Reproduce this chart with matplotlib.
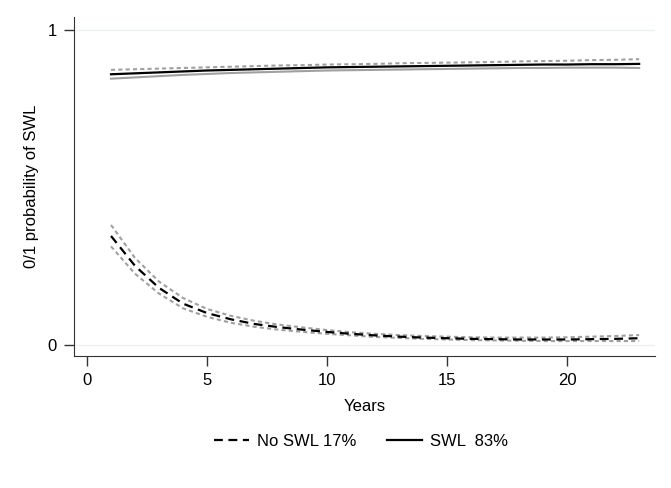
import numpy as np
import matplotlib.pyplot as plt

plt.rcParams['font.family'] = ['Liberation Sans', 'DejaVu Sans']

years = list(range(1, 24))

# SWL (upper group)
swl = [0.859, 0.862, 0.865, 0.868, 0.871, 0.873, 0.875, 0.877, 0.879, 0.881,
       0.882, 0.883, 0.884, 0.885, 0.886, 0.887, 0.888, 0.889, 0.890, 0.890,
       0.891, 0.891, 0.892]
swl_hi = [0.873, 0.875, 0.877, 0.879, 0.881, 0.883, 0.885, 0.887, 0.888, 0.890,
          0.891, 0.892, 0.894, 0.895, 0.896, 0.897, 0.898, 0.900, 0.901, 0.902,
          0.904, 0.905, 0.907]
swl_lo = [0.845, 0.849, 0.853, 0.857, 0.860, 0.863, 0.865, 0.867, 0.869, 0.871,
          0.872, 0.873, 0.874, 0.875, 0.876, 0.877, 0.878, 0.879, 0.879, 0.880,
          0.880, 0.880, 0.879]

# No SWL (lower group)
noswl = [0.345, 0.25, 0.18, 0.13, 0.10, 0.08, 0.065, 0.055, 0.047, 0.040,
         0.034, 0.029, 0.025, 0.022, 0.020, 0.018, 0.017, 0.016, 0.016, 0.016,
         0.017, 0.018, 0.020]
noswl_hi = [0.38, 0.275, 0.20, 0.148, 0.113, 0.091, 0.075, 0.063, 0.054, 0.046,
            0.039, 0.034, 0.030, 0.027, 0.025, 0.023, 0.022, 0.022, 0.022, 0.023,
            0.025, 0.027, 0.030]
noswl_lo = [0.312, 0.225, 0.162, 0.115, 0.088, 0.069, 0.056, 0.047, 0.040, 0.034,
            0.029, 0.024, 0.021, 0.018, 0.016, 0.014, 0.013, 0.012, 0.011, 0.011,
            0.011, 0.011, 0.011]

fig = plt.figure(figsize=(6.71, 4.88), dpi=100)
ax = fig.add_axes([73.5 / 671, 1 - 356 / 488, (655 - 73.5) / 671, (356 - 16.7) / 488])

for yv in (0, 1):
    ax.axhline(yv, color='#eaf2f3', lw=1, zorder=0)

gray = '#a0a0a0'
ax.plot(years, noswl_hi, color=gray, lw=1.5, ls=(0, (2, 1.5)))
ax.plot(years, noswl_lo, color=gray, lw=1.5, ls=(0, (2, 1.5)))
ax.plot(years, swl_hi, color=gray, lw=1.5, ls=(0, (2, 1.5)))
ax.plot(years, swl_lo, color=gray, lw=1.5)
ax.plot(years, noswl, color='black', lw=1.6, ls=(0, (4, 2.5)), label='No SWL 17%')
ax.plot(years, swl, color='black', lw=1.6, label='SWL  83%')

ax.set_xlim(-0.5625, 23.66)
ax.set_ylim(-0.0365, 1.042)
ax.set_xticks([0, 5, 10, 15, 20])
ax.set_yticks([0, 1])
ax.tick_params(labelsize=12, length=7, width=1, color='#333333', pad=5)
for s in ('top', 'right'):
    ax.spines[s].set_visible(False)
for s in ('left', 'bottom'):
    ax.spines[s].set_color('#333333')

ax.set_xlabel('Years', fontsize=12, labelpad=8)
ax.set_ylabel('0/1 probability of SWL', fontsize=12, labelpad=6)

fig.legend(loc='center', bbox_to_anchor=(0.538, 1 - 441 / 488), ncol=2, frameon=False,
           fontsize=12, handlelength=2.1, columnspacing=1.8, handletextpad=0.5)

fig.savefig('out.png', dpi=100, facecolor='white')
